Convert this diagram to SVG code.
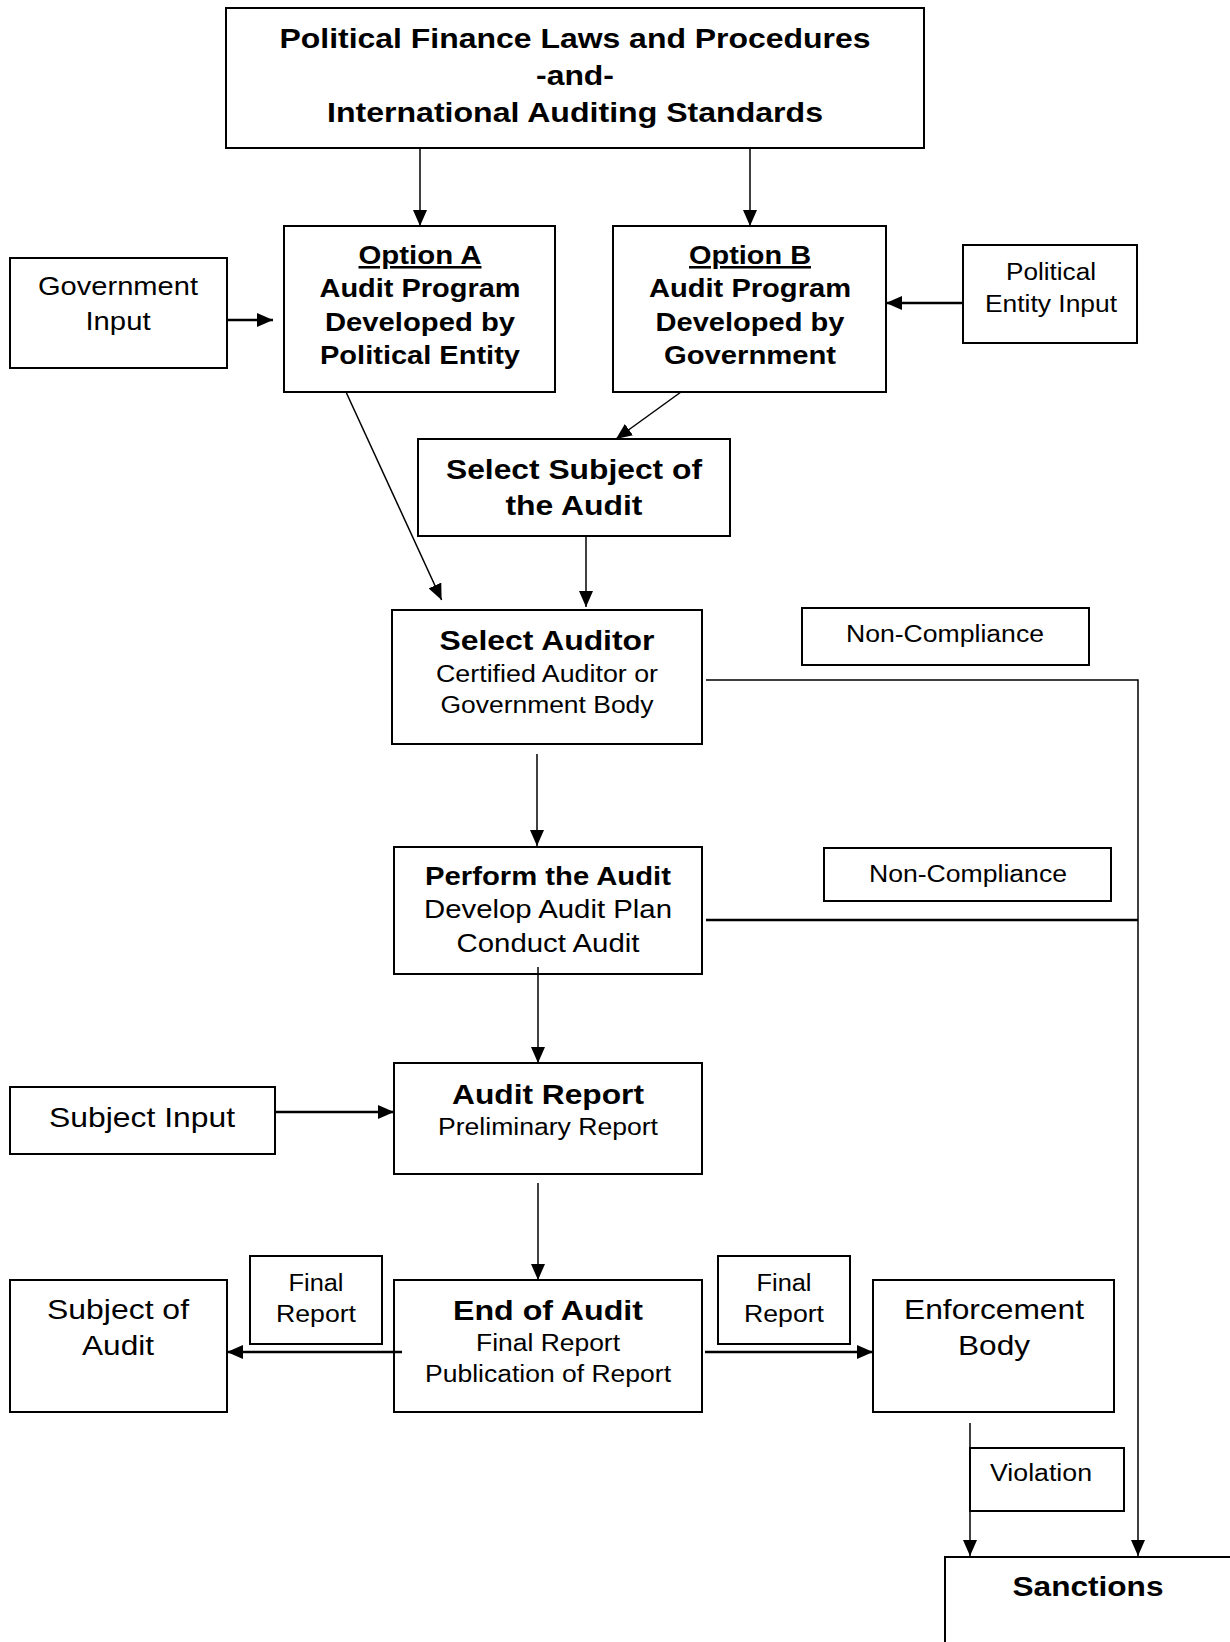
<svg xmlns="http://www.w3.org/2000/svg" width="1230" height="1642" viewBox="0 0 1230 1642">
<defs>
<style>
.box{fill:#fff;stroke:#000;stroke-width:2}
text{font-family:"Liberation Sans",Arial,sans-serif;text-anchor:middle;fill:#000}
.b{font-weight:bold}
.c{stroke:#000;stroke-width:1.5;fill:none}
.t{stroke:#000;stroke-width:2.5;fill:none}
</style>
<marker id="ah" viewBox="0 0 16 14" refX="16" refY="7" markerWidth="16" markerHeight="14" markerUnits="userSpaceOnUse" orient="auto"><path d="M0,0 L16,7 L0,14 z" fill="#000"/></marker>
</defs>
<rect width="1230" height="1642" fill="#fff"/>

<g id="title">
<rect class="box" x="226" y="8" width="698" height="140"/>
<text class="b" font-size="28" x="575" y="48" textLength="591" lengthAdjust="spacingAndGlyphs">Political Finance Laws and Procedures</text>
<text class="b" font-size="28" x="575" y="85" textLength="78" lengthAdjust="spacingAndGlyphs">-and-</text>
<text class="b" font-size="28" x="575" y="122" textLength="496" lengthAdjust="spacingAndGlyphs">International Auditing Standards</text>
</g>

<g id="optionA">
<rect class="box" x="284" y="226" width="271" height="166"/>
<text class="b" font-size="25.5" x="420" y="264" textLength="123" lengthAdjust="spacingAndGlyphs" text-decoration="underline">Option A</text>
<text class="b" font-size="25.5" x="420" y="297" textLength="201" lengthAdjust="spacingAndGlyphs">Audit Program</text>
<text class="b" font-size="25.5" x="420" y="331" textLength="190" lengthAdjust="spacingAndGlyphs">Developed by</text>
<text class="b" font-size="25.5" x="420" y="364" textLength="200" lengthAdjust="spacingAndGlyphs">Political Entity</text>
</g>

<g id="optionB">
<rect class="box" x="613" y="226" width="273" height="166"/>
<text class="b" font-size="25.5" x="750" y="264" textLength="122" lengthAdjust="spacingAndGlyphs" text-decoration="underline">Option B</text>
<text class="b" font-size="25.5" x="750" y="297" textLength="202" lengthAdjust="spacingAndGlyphs">Audit Program</text>
<text class="b" font-size="25.5" x="750" y="331" textLength="189" lengthAdjust="spacingAndGlyphs">Developed by</text>
<text class="b" font-size="25.5" x="750" y="364" textLength="172" lengthAdjust="spacingAndGlyphs">Government</text>
</g>

<g id="governmentInput">
<rect class="box" x="10" y="258" width="217" height="110"/>
<text font-size="26" x="118" y="295" textLength="160" lengthAdjust="spacingAndGlyphs">Government</text>
<text font-size="26" x="118" y="330" textLength="65" lengthAdjust="spacingAndGlyphs">Input</text>
</g>

<g id="politicalEntityInput">
<rect class="box" x="963" y="245" width="174" height="98"/>
<text font-size="23" x="1051" y="280" textLength="90" lengthAdjust="spacingAndGlyphs">Political</text>
<text font-size="23" x="1051" y="312" textLength="132" lengthAdjust="spacingAndGlyphs">Entity Input</text>
</g>

<g id="selectSubject">
<rect class="box" x="418" y="439" width="312" height="97"/>
<text class="b" font-size="28" x="574" y="479" textLength="256" lengthAdjust="spacingAndGlyphs">Select Subject of</text>
<text class="b" font-size="28" x="574" y="515" textLength="137" lengthAdjust="spacingAndGlyphs">the Audit</text>
</g>

<g id="selectAuditor">
<rect class="box" x="392" y="610" width="310" height="134"/>
<text class="b" font-size="28" x="547" y="650" textLength="215" lengthAdjust="spacingAndGlyphs">Select Auditor</text>
<text font-size="23.5" x="547" y="682" textLength="222" lengthAdjust="spacingAndGlyphs">Certified Auditor or</text>
<text font-size="23.5" x="547" y="713" textLength="213" lengthAdjust="spacingAndGlyphs">Government Body</text>
</g>

<g id="nonCompliance1">
<rect class="box" x="802" y="608" width="287" height="57"/>
<text font-size="23" x="945" y="642" textLength="198" lengthAdjust="spacingAndGlyphs">Non-Compliance</text>
</g>

<g id="performAudit">
<rect class="box" x="394" y="847" width="308" height="127"/>
<text class="b" font-size="25" x="548" y="885" textLength="246" lengthAdjust="spacingAndGlyphs">Perform the Audit</text>
<text font-size="25" x="548" y="918" textLength="248" lengthAdjust="spacingAndGlyphs">Develop Audit Plan</text>
<text font-size="25" x="548" y="952" textLength="183" lengthAdjust="spacingAndGlyphs">Conduct Audit</text>
</g>

<g id="nonCompliance2">
<rect class="box" x="824" y="848" width="287" height="53"/>
<text font-size="23" x="968" y="882" textLength="198" lengthAdjust="spacingAndGlyphs">Non-Compliance</text>
</g>

<g id="auditReport">
<rect class="box" x="394" y="1063" width="308" height="111"/>
<text class="b" font-size="28" x="548" y="1104" textLength="192" lengthAdjust="spacingAndGlyphs">Audit Report</text>
<text font-size="23.5" x="548" y="1135" textLength="220" lengthAdjust="spacingAndGlyphs">Preliminary Report</text>
</g>

<g id="subjectInput">
<rect class="box" x="10" y="1087" width="265" height="67"/>
<text font-size="28" x="142" y="1127" textLength="186" lengthAdjust="spacingAndGlyphs">Subject Input</text>
</g>

<g id="endOfAudit">
<rect class="box" x="394" y="1280" width="308" height="132"/>
<text class="b" font-size="28" x="548" y="1320" textLength="190" lengthAdjust="spacingAndGlyphs">End of Audit</text>
<text font-size="23.5" x="548" y="1351" textLength="144" lengthAdjust="spacingAndGlyphs">Final Report</text>
<text font-size="23.5" x="548" y="1382" textLength="246" lengthAdjust="spacingAndGlyphs">Publication of Report</text>
</g>

<g id="subjectOfAudit">
<rect class="box" x="10" y="1280" width="217" height="132"/>
<text font-size="27" x="118" y="1319" textLength="142" lengthAdjust="spacingAndGlyphs">Subject of</text>
<text font-size="27" x="118" y="1355" textLength="72" lengthAdjust="spacingAndGlyphs">Audit</text>
</g>

<g id="finalReportLeft">
<rect class="box" x="250" y="1256" width="132" height="88"/>
<text font-size="23" x="316" y="1291" textLength="55" lengthAdjust="spacingAndGlyphs">Final</text>
<text font-size="23" x="316" y="1322" textLength="80" lengthAdjust="spacingAndGlyphs">Report</text>
</g>

<g id="finalReportRight">
<rect class="box" x="718" y="1256" width="132" height="88"/>
<text font-size="23" x="784" y="1291" textLength="55" lengthAdjust="spacingAndGlyphs">Final</text>
<text font-size="23" x="784" y="1322" textLength="80" lengthAdjust="spacingAndGlyphs">Report</text>
</g>

<g id="enforcementBody">
<rect class="box" x="873" y="1280" width="241" height="132"/>
<text font-size="28" x="994" y="1319" textLength="180" lengthAdjust="spacingAndGlyphs">Enforcement</text>
<text font-size="28" x="994" y="1355" textLength="72" lengthAdjust="spacingAndGlyphs">Body</text>
</g>

<g id="violation">
<rect class="box" x="970" y="1448" width="154" height="63"/>
<text font-size="23" x="1041" y="1481" textLength="102" lengthAdjust="spacingAndGlyphs">Violation</text>
</g>

<g id="sanctions">
<rect class="box" x="945" y="1557" width="300" height="110"/>
<text class="b" font-size="28" x="1088" y="1596" textLength="151" lengthAdjust="spacingAndGlyphs">Sanctions</text>
</g>

<g id="connectors">
<line class="c" x1="420" y1="148" x2="420" y2="226" marker-end="url(#ah)"/>
<line class="c" x1="750" y1="148" x2="750" y2="226" marker-end="url(#ah)"/>
<line class="t" x1="227" y1="320" x2="273" y2="320" marker-end="url(#ah)"/>
<line class="t" x1="963" y1="303" x2="886" y2="303" marker-end="url(#ah)"/>
<line class="c" x1="346" y1="392" x2="441.6" y2="600" marker-end="url(#ah)"/>
<line class="c" x1="681" y1="392" x2="616" y2="439" marker-end="url(#ah)"/>
<line class="c" x1="586" y1="536" x2="586" y2="607" marker-end="url(#ah)"/>
<line class="c" x1="537" y1="754" x2="537" y2="846" marker-end="url(#ah)"/>
<line class="c" x1="538" y1="967" x2="538" y2="1063" marker-end="url(#ah)"/>
<line class="t" x1="275" y1="1112" x2="394" y2="1112" marker-end="url(#ah)"/>
<line class="c" x1="538" y1="1183" x2="538" y2="1280" marker-end="url(#ah)"/>
<line class="t" x1="402" y1="1352" x2="227" y2="1352" marker-end="url(#ah)"/>
<line class="t" x1="705" y1="1352" x2="873" y2="1352" marker-end="url(#ah)"/>
<line class="c" x1="970" y1="1423" x2="970" y2="1556" marker-end="url(#ah)"/>
<polyline class="c" points="706,680 1138,680 1138,1556" marker-end="url(#ah)"/>
<line class="t" x1="706" y1="920" x2="1138" y2="920"/>
</g>
</svg>
